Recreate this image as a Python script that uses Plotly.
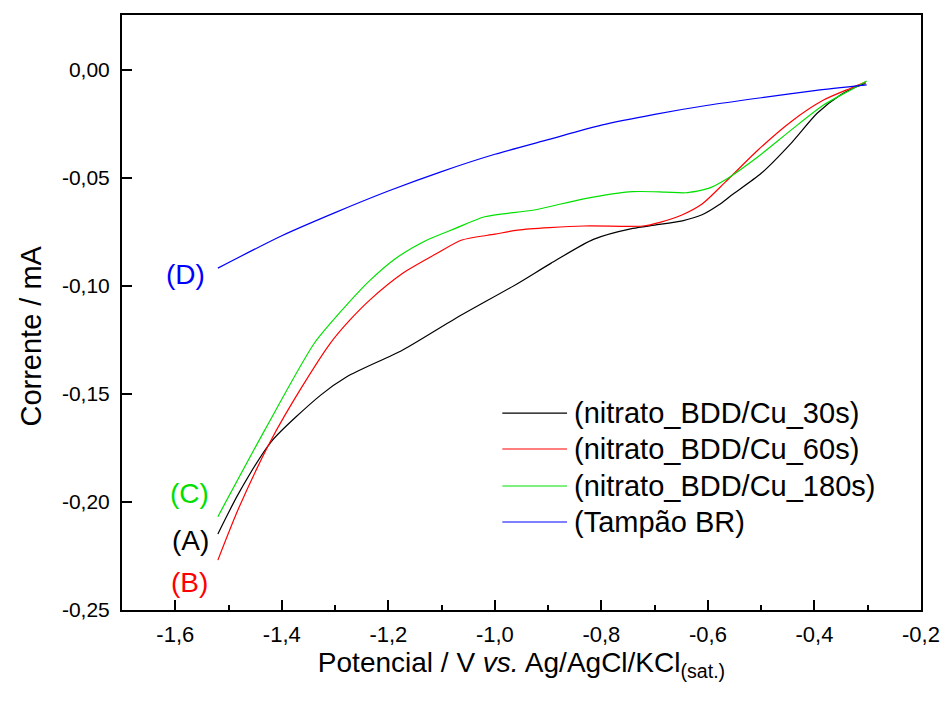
import plotly.graph_objects as go

# ---- data ----
x_A = [-1.520, -1.481, -1.420, -1.327, -1.278, -1.173, -1.074, -0.957, -0.895, -0.815,
       -0.741, -0.700, -0.648, -0.611, -0.580, -0.556, -0.500, -0.444, -0.395, -0.352, -0.321, -0.304]
y_A = [-0.2148, -0.1960, -0.1721, -0.1505, -0.1420, -0.1296, -0.1150, -0.0988, -0.0895, -0.0784,
       -0.0733, -0.0718, -0.0698, -0.0670, -0.0625, -0.0580, -0.0478, -0.0339, -0.0200, -0.0116, -0.0077, -0.0062]

x_B = [-1.520, -1.481, -1.420, -1.364, -1.309, -1.272, -1.235, -1.173, -1.111, -1.062, -1.000,
       -0.957, -0.833, -0.722, -0.690, -0.650, -0.611, -0.568, -0.506, -0.444, -0.383, -0.333, -0.304]
y_B = [-0.2269, -0.2029, -0.1713, -0.1474, -0.1265, -0.1157, -0.1065, -0.0941, -0.0852, -0.0787, -0.0760,
       -0.0741, -0.0722, -0.0722, -0.0705, -0.0672, -0.0620, -0.0520, -0.0370, -0.0239, -0.0139, -0.0085, -0.0056]

x_C = [-1.520, -1.432, -1.339, -1.290, -1.235, -1.185, -1.130, -1.074, -1.019, -0.926,
       -0.833, -0.741, -0.680, -0.642, -0.599, -0.568, -0.506, -0.444, -0.383, -0.333, -0.302]
y_C = [-0.2068, -0.1667, -0.1265, -0.1120, -0.0975, -0.0870, -0.0790, -0.0733, -0.0679, -0.0648,
       -0.0596, -0.0563, -0.0565, -0.0568, -0.0548, -0.0509, -0.0401, -0.0278, -0.0162, -0.0093, -0.0051]

x_D = [-1.520, -1.400, -1.300, -1.200, -1.100, -1.000, -0.900, -0.800, -0.700, -0.600,
       -0.500, -0.400, -0.302]
y_D = [-0.0917, -0.0767, -0.0660, -0.0560, -0.0470, -0.0390, -0.0322, -0.0255, -0.0205, -0.0163,
       -0.0128, -0.0095, -0.0069]

series_names = ["(nitrato_BDD/Cu_30s)", "(nitrato_BDD/Cu_60s)", "(nitrato_BDD/Cu_180s)", "(Tampão BR)"]
series_colors = ["#000000", "#ff0000", "#00e000", "#0000ff"]
curve_labels = ["(A)", "(B)", "(C)", "(D)"]

x_tickvals = [-1.6, -1.4, -1.2, -1.0, -0.8, -0.6, -0.4, -0.2]
x_ticktext = ["-1,6", "-1,4", "-1,2", "-1,0", "-0,8", "-0,6", "-0,4", "-0,2"]
y_tickvals = [0.0, -0.05, -0.10, -0.15, -0.20, -0.25]
y_ticktext = ["0,00", "-0,05", "-0,10", "-0,15", "-0,20", "-0,25"]

X_RANGE = [-1.7, -0.2]
Y_RANGE = [-0.25, 0.0255]

FONT = "Liberation Sans, Arial, sans-serif"

fig = go.Figure()
xs = [x_A, x_B, x_C, x_D]
ys = [y_A, y_B, y_C, y_D]
for xv, yv, name, col in zip(xs, ys, series_names, series_colors):
    fig.add_trace(go.Scatter(x=xv, y=yv, mode="lines", name=name,
                             line=dict(color=col, width=1.2, shape="spline", smoothing=0.7),
                             showlegend=False))

# curve labels (A)-(D) placed near curve starts
label_pos = {"(A)": (-1.572, -0.2176), "(B)": (-1.574, -0.2372), "(C)": (-1.574, -0.1960), "(D)": (-1.580, -0.0946)}
for lab, col in zip(curve_labels, series_colors):
    lx, ly = label_pos[lab]
    fig.add_annotation(x=lx, y=ly, xref="x", yref="y", text=lab, showarrow=False,
                       font=dict(family=FONT, size=28, color=col), xanchor="center", yanchor="middle")

# manual legend
leg_rows = [0.331, 0.2706, 0.2084, 0.1479]
for name, col, ry in zip(series_names, series_colors, leg_rows):
    fig.add_shape(type="line", xref="paper", yref="paper", x0=0.476, x1=0.557, y0=ry, y1=ry,
                  line=dict(color=col, width=1.2))
    fig.add_annotation(x=0.563, y=ry, xref="paper", yref="paper", text=name, showarrow=False,
                       xanchor="left", yanchor="middle", font=dict(family=FONT, size=29, color="black"))

# y axis title as annotation
fig.add_annotation(x=-0.1136, y=0.46, xref="paper", yref="paper", text="Corrente / mA", textangle=-90,
                   showarrow=False, xanchor="center", yanchor="middle",
                   font=dict(family=FONT, size=29, color="black"))

fig.update_layout(
    width=952, height=702,
    margin=dict(l=122, r=20, t=15, b=92),
    paper_bgcolor="white", plot_bgcolor="white",
    font=dict(family=FONT, color="black"),
    showlegend=False,
    xaxis=dict(range=X_RANGE, showline=True, linecolor="black", linewidth=2, mirror=True,
               ticks="inside", ticklen=10, tickwidth=2, tickcolor="black",
               tickmode="array", tickvals=x_tickvals, ticktext=x_ticktext,
               tickfont=dict(family=FONT, size=22), ticklabelstandoff=4,
               minor=dict(tickmode="linear", tick0=-1.7, dtick=0.1, ticks="inside", ticklen=5,
                          tickwidth=1.5, tickcolor="black"),
               showgrid=False, zeroline=False,
               title=dict(text="Potencial / V <i>vs.</i> Ag/AgCl/KCl<sub>(sat.)</sub>",
                          font=dict(family=FONT, size=28), standoff=2)),
    yaxis=dict(range=Y_RANGE, showline=True, linecolor="black", linewidth=2, mirror=True,
               ticks="inside", ticklen=10, tickwidth=2, tickcolor="black",
               tickmode="array", tickvals=y_tickvals, ticktext=y_ticktext,
               tickfont=dict(family=FONT, size=21), ticklabelstandoff=6,
               showgrid=False, zeroline=False),
    xaxis2=dict(range=X_RANGE, overlaying="x", anchor="y", side="top", showline=False,
                ticks="inside", ticklen=5, tickwidth=1.5, tickcolor="black",
                tickmode="linear", tick0=-1.7, dtick=0.1, showticklabels=False,
                showgrid=False, zeroline=False),
    yaxis2=dict(range=Y_RANGE, overlaying="y", anchor="x", side="right", showline=False,
                ticks="inside", ticklen=5, tickwidth=1.5, tickcolor="black",
                tickmode="linear", tick0=0, dtick=0.025, showticklabels=False,
                showgrid=False, zeroline=False),
)

fig.write_html("out.html")
